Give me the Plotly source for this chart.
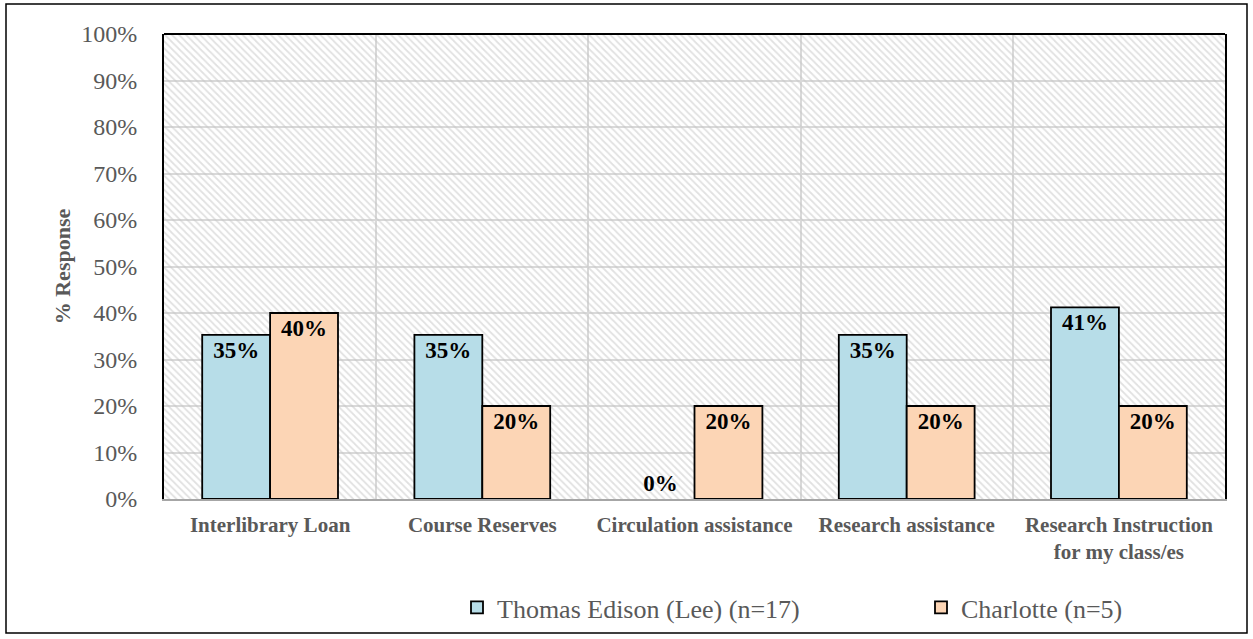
import plotly.graph_objects as go

categories = ["Interlibrary Loan", "Course Reserves", "Circulation assistance",
              "Research assistance", "Research Instruction<br>for my class/es"]
edison_vals = [0.353, 0.353, 0.0, 0.353, 0.412]
charlotte_vals = [0.40, 0.20, 0.20, 0.20, 0.20]
edison_name = "Thomas Edison (Lee) (n=17)"
charlotte_name = "Charlotte (n=5)"
y_ticks = [i / 10 for i in range(11)]

FONT = "Liberation Serif, Times New Roman, serif"
GRAY = "#595959"

# plot area in pixels
L, R, T, B = 164, 28, 34, 140
PW, PH = 1253 - L - R, 639 - T - B
BASE = T + PH

fig = go.Figure()

# hatched plot-area background
fig.add_trace(go.Bar(
    x=[categories[2]], y=[1.0], width=[5], showlegend=False, hoverinfo="skip",
    marker=dict(color="rgba(0,0,0,0)", line=dict(width=0),
                pattern=dict(shape="\\", fgcolor="#c4c4c4", bgcolor="rgba(0,0,0,0)",
                             size=5, solidity=0.35, fillmode="overlay")),
))

def labels(vals):
    return [f"{round(v * 100):.0f}%" for v in vals]

def outline(vals):
    return [1.8 if v > 0 else 0 for v in vals]

label_font = dict(family=FONT, size=23, color="black", weight="bold")

fig.add_trace(go.Bar(
    name=edison_name, x=categories, y=edison_vals, offset=-0.32, width=0.32,
    marker=dict(color="#b7dde8", line=dict(color="black", width=outline(edison_vals))),
    text=labels(edison_vals),
    textposition=["inside" if v > 0 else "outside" for v in edison_vals],
    insidetextanchor="end", textfont=label_font, cliponaxis=False,
))
fig.add_trace(go.Bar(
    name=charlotte_name, x=categories, y=charlotte_vals, offset=0.0, width=0.32,
    marker=dict(color="#fcd5b5", line=dict(color="black", width=outline(charlotte_vals))),
    text=labels(charlotte_vals),
    textposition="inside", insidetextanchor="end", textfont=label_font,
    cliponaxis=False,
))

fig.update_layout(
    width=1253, height=639,
    margin=dict(l=L, r=R, t=T, b=B, autoexpand=False),
    paper_bgcolor="white", plot_bgcolor="white",
    barmode="overlay",
    font=dict(family=FONT, color=GRAY),
    xaxis=dict(
        type="category", categoryorder="array", categoryarray=categories,
        range=[-0.5, 4.5], tickson="boundaries", automargin=False,
        showgrid=True, gridcolor="#d9d9d9", gridwidth=1.5,
        ticks="", showline=True, linecolor="#a6a6a6", linewidth=1.5,
        tickfont=dict(family=FONT, size=21, color=GRAY, weight="bold"),
        ticklabelstandoff=6,
    ),
    yaxis=dict(
        range=[0, 1], tickvals=y_ticks, tickformat=".0%", automargin=False,
        showgrid=True, gridcolor="#d9d9d9", gridwidth=1.5,
        showline=True, linecolor="black", linewidth=2, mirror=True,
        ticks="", zeroline=False,
        tickfont=dict(family=FONT, size=24, color=GRAY),
        ticklabelstandoff=20,
        title=dict(text="% Response", font=dict(family=FONT, size=22, color=GRAY, weight="bold"),
                   standoff=5),
    ),
    legend=dict(
        orientation="h", x=(457 - L) / PW, xanchor="left",
        y=-(584 - BASE) / PH, yanchor="top",
        entrywidth=419, entrywidthmode="pixels",
        font=dict(family=FONT, size=26, color=GRAY),
        bgcolor="rgba(0,0,0,0)",
        traceorder="normal", itemclick=False,
    ),
    showlegend=True,
    shapes=[
        dict(type="line", xref="paper", yref="paper", x0=0, x1=1, y0=1, y1=1,
             line=dict(color="black", width=2)),
        dict(type="rect", xref="paper", yref="paper",
             x0=(6 - L) / PW, x1=(1247 - L) / PW,
             y0=-(633 - BASE) / PH, y1=(BASE - 4) / PH,
             line=dict(color="black", width=1.5)),
    ],
)

fig.write_html("out.html", config={"displayModeBar": False},
               post_script="document.body.style.margin='0';")
